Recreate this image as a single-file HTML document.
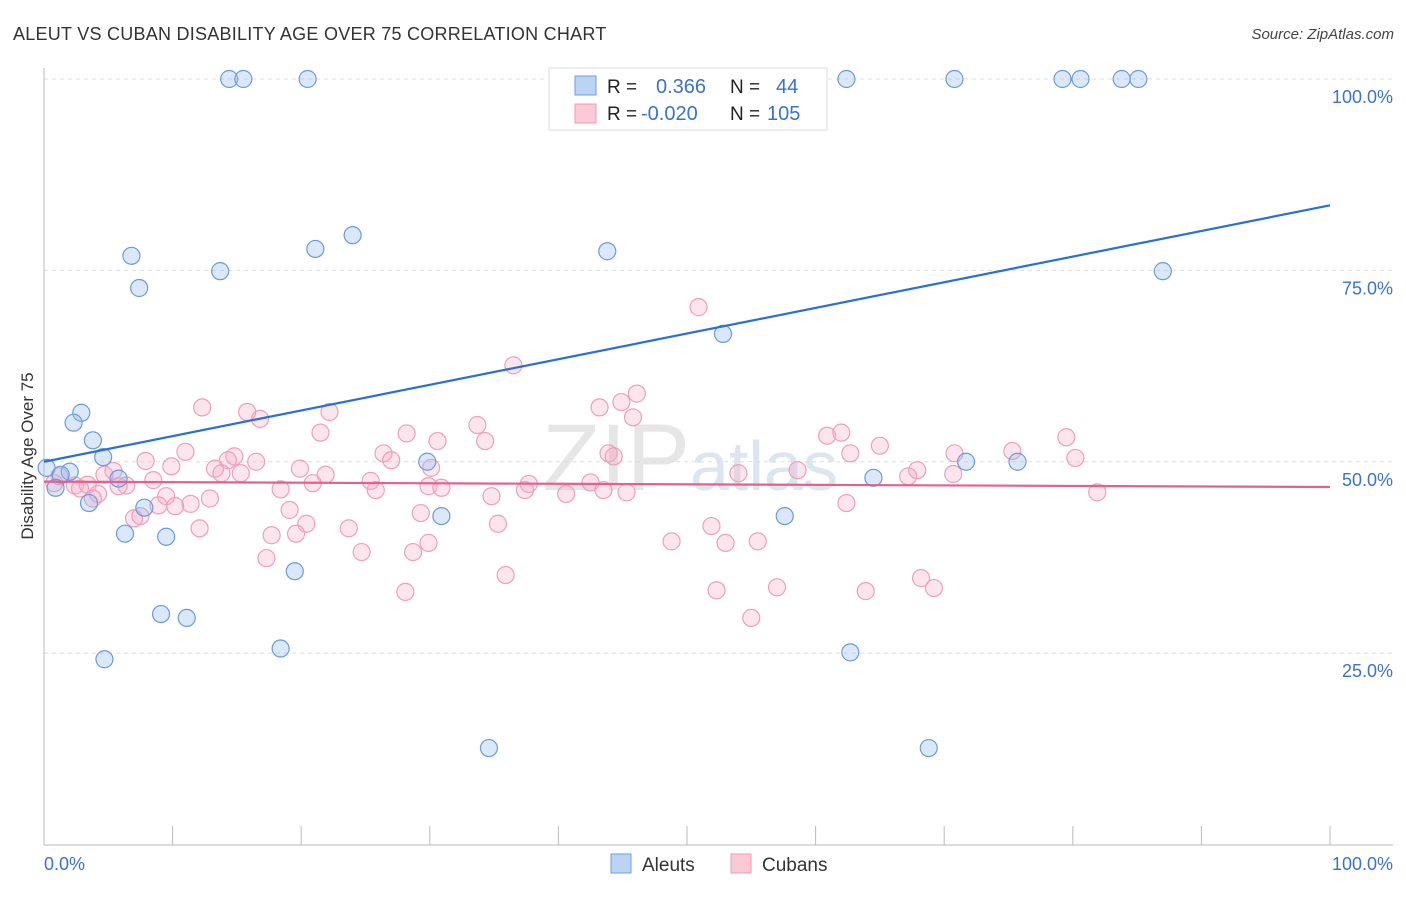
<!DOCTYPE html>
<html><head><meta charset="utf-8"><style>
body{margin:0;background:#fff;font-family:"Liberation Sans",sans-serif;}
svg text{font-family:"Liberation Sans",sans-serif;}
</style></head><body>
<svg id="chart" width="1406" height="892" xmlns="http://www.w3.org/2000/svg">
<text x="13" y="40" font-size="18" fill="#333" letter-spacing="0.25">ALEUT VS CUBAN DISABILITY AGE OVER 75 CORRELATION CHART</text>
<text x="1394" y="39" font-size="15" fill="#444" text-anchor="end" font-style="italic">Source: ZipAtlas.com</text>
<text x="690" y="490" font-size="95" fill="#e6e6e6" text-anchor="middle" font-family="Liberation Serif">ZIP<tspan font-family="Liberation Sans" font-size="70" fill="#dde6f0">atlas</tspan></text>
<g id="grid"></g>
<g id="axes"></g>
<g id="pts"></g>
<g id="trend"></g>
<text transform="translate(33,456) rotate(-90)" font-size="17" fill="#333" text-anchor="middle">Disability Age Over 75</text>
<g>
<rect x="549" y="68" width="278" height="62" fill="#fff" stroke="#ddd"/>
<rect x="575" y="76" width="21" height="19" fill="#bcd4f4" stroke="#6d9ee0"/>
<rect x="575" y="104" width="21" height="19" fill="#fbc9d7" stroke="#ee9ab4"/>
<text x="607" y="93" font-size="19" fill="#222">R = </text><text x="656" y="93" font-size="20" fill="#3b73c9">0.366</text>
<text x="730" y="93" font-size="19" fill="#222">N = </text><text x="776" y="93" font-size="20" fill="#3b73c9">44</text>
<text x="607" y="120" font-size="19" fill="#222">R = </text><text x="641" y="120" font-size="20" fill="#3b73c9">-0.020</text>
<text x="730" y="120" font-size="19" fill="#222">N = </text><text x="767" y="120" font-size="20" fill="#3b73c9">105</text>
</g>
<g>
<rect x="611" y="854" width="20" height="19" fill="#bcd4f4" stroke="#6d9ee0"/>
<text x="642" y="871" font-size="19" fill="#333">Aleuts</text>
<rect x="731" y="854" width="20" height="19" fill="#fbc9d7" stroke="#ee9ab4"/>
<text x="762" y="871" font-size="19" fill="#333">Cubans</text>
</g>
</svg>
<script>
const yTicks=[100,75,50,25];
const yTickLabels=["100.0%","75.0%","50.0%","25.0%"];
const xEndLabels=["0.0%","100.0%"];
const aleutX=[14.4,15.5,20.5,47.3,62.4,70.8,79.2,80.6,83.8,85.1,6.8,21.1,24.0,43.8,87.0,7.4,13.7,52.8,2.9,2.3,3.8,4.6,0.2,2.0,1.3,0.9,5.8,3.5,7.8,6.3,9.5,29.8,30.9,57.6,71.7,75.7,64.5,19.5,9.1,11.1,18.4,4.7,62.7,34.6,68.8];
const aleutY=[100,100,100,100,100,100,100,100,100,100,76.9,77.8,79.6,77.5,74.9,72.7,74.9,66.7,56.4,55.1,52.8,50.6,49.2,48.7,48.3,46.6,47.8,44.6,44.0,40.6,40.2,50.0,42.9,42.9,50.0,50.0,47.9,35.7,30.1,29.6,25.6,24.2,25.1,12.6,12.6];
const cubanX=[50.9,36.5,46.1,12.3,43.2,44.9,45.8,15.8,16.8,22.2,33.7,21.5,28.2,30.6,34.3,60.9,62.0,65.0,79.5,11.0,26.4,27.0,14.8,14.3,16.5,7.9,9.9,43.9,44.3,62.7,70.8,75.3,80.2,13.3,13.8,15.3,19.9,21.9,30.1,54.0,58.6,67.9,67.2,70.7,5.4,4.7,1.2,0.8,2.4,3.4,2.8,6.4,5.8,8.5,25.4,25.8,18.4,20.9,29.9,30.9,37.7,37.4,34.8,40.6,42.5,43.5,45.3,81.9,4.2,3.8,9.5,12.9,8.9,10.2,11.4,19.1,20.4,7.0,7.5,12.1,17.7,19.6,23.7,29.3,29.9,28.7,35.3,51.9,62.4,48.8,53.0,55.5,24.7,17.3,35.9,52.3,57.0,63.9,68.2,69.2,28.1,55.0];
const cubanY=[70.2,62.6,58.9,57.1,57.1,57.8,55.8,56.5,55.6,56.5,54.8,53.8,53.7,52.7,52.7,53.4,53.8,52.1,53.2,51.3,51.1,50.2,50.7,50.2,50.0,50.1,49.4,51.1,50.7,51.1,51.1,51.4,50.5,49.1,48.5,48.5,49.1,48.3,49.2,48.5,48.9,48.9,48.1,48.4,48.8,48.3,48.1,47.2,46.9,47.0,46.5,46.9,46.8,47.6,47.5,46.3,46.4,47.2,46.8,46.6,47.1,46.3,45.5,45.8,47.3,46.3,46.0,46.0,45.8,45.2,45.5,45.2,44.3,44.2,44.5,43.7,41.9,42.6,42.9,41.3,40.4,40.6,41.3,43.3,39.4,38.2,41.9,41.6,44.6,39.6,39.4,39.6,38.2,37.4,35.2,33.2,33.6,33.1,34.8,33.5,33.0,29.6];
const aleutTrend=[50.0,83.5];
const cubanTrend=[47.4,46.7];
const NS="http://www.w3.org/2000/svg";
const X0=44,X1=1330,Y0=844.5,YS=7.655;
function sx(v){return X0+(X1-X0)*v/100;}
function sy(v){return Y0-v*YS;}
function mk(tag,attrs,parent){const e=document.createElementNS(NS,tag);for(const k in attrs)e.setAttribute(k,attrs[k]);parent.appendChild(e);return e;}
const grid=document.getElementById('grid'),axes=document.getElementById('axes'),pts=document.getElementById('pts'),trend=document.getElementById('trend');
yTicks.forEach((t,i)=>{
 const l=mk('line',{x1:X0,x2:1393,y1:sy(t),y2:sy(t),stroke:'#ddd','stroke-dasharray':'4,4'},grid);
 
 
 const tx=mk('text',{x:1393,y:sy(t)+24,'font-size':18,fill:'#3b73c9','text-anchor':'end'},axes);
 tx.textContent=yTickLabels[i];
 
 
});
let a=mk('line',{x1:X0,x2:X0,y1:68,y2:845,stroke:'#bbb'},axes);


a=mk('line',{x1:X0,x2:1393,y1:845,y2:845,stroke:'#bbb'},axes);


for(let k=0;k<=10;k++){
 const t=mk('line',{x1:sx(k*10),x2:sx(k*10),y1:826,y2:845,stroke:'#bbb'},axes);
 
 
}
let xl=mk('text',{x:44,y:870,'font-size':18,fill:'#3b73c9'},axes);xl.textContent=xEndLabels[0];


xl=mk('text',{x:1393,y:870,'font-size':18,fill:'#3b73c9','text-anchor':'end'},axes);xl.textContent=xEndLabels[1];


cubanX.forEach((v,i)=>{
 const c=mk('circle',{cx:sx(v),cy:sy(cubanY[i]),r:8.5,fill:'rgba(246,170,196,0.3)',stroke:'#eda0b9','stroke-width':1.2},pts);
 
 
});
aleutX.forEach((v,i)=>{
 const c=mk('circle',{cx:sx(v),cy:sy(aleutY[i]),r:8.5,fill:'rgba(150,190,240,0.35)',stroke:'#6a9bdc','stroke-width':1.2},pts);
 
 
});
let tl=mk('line',{x1:sx(0),x2:sx(100),y1:sy(aleutTrend[0]),y2:sy(aleutTrend[1]),stroke:'#2a6fd6','stroke-width':2.2},trend);


tl=mk('line',{x1:sx(0),x2:sx(100),y1:sy(cubanTrend[0]),y2:sy(cubanTrend[1]),stroke:'#e5608c','stroke-width':2.2},trend);


</script>
</body></html>
